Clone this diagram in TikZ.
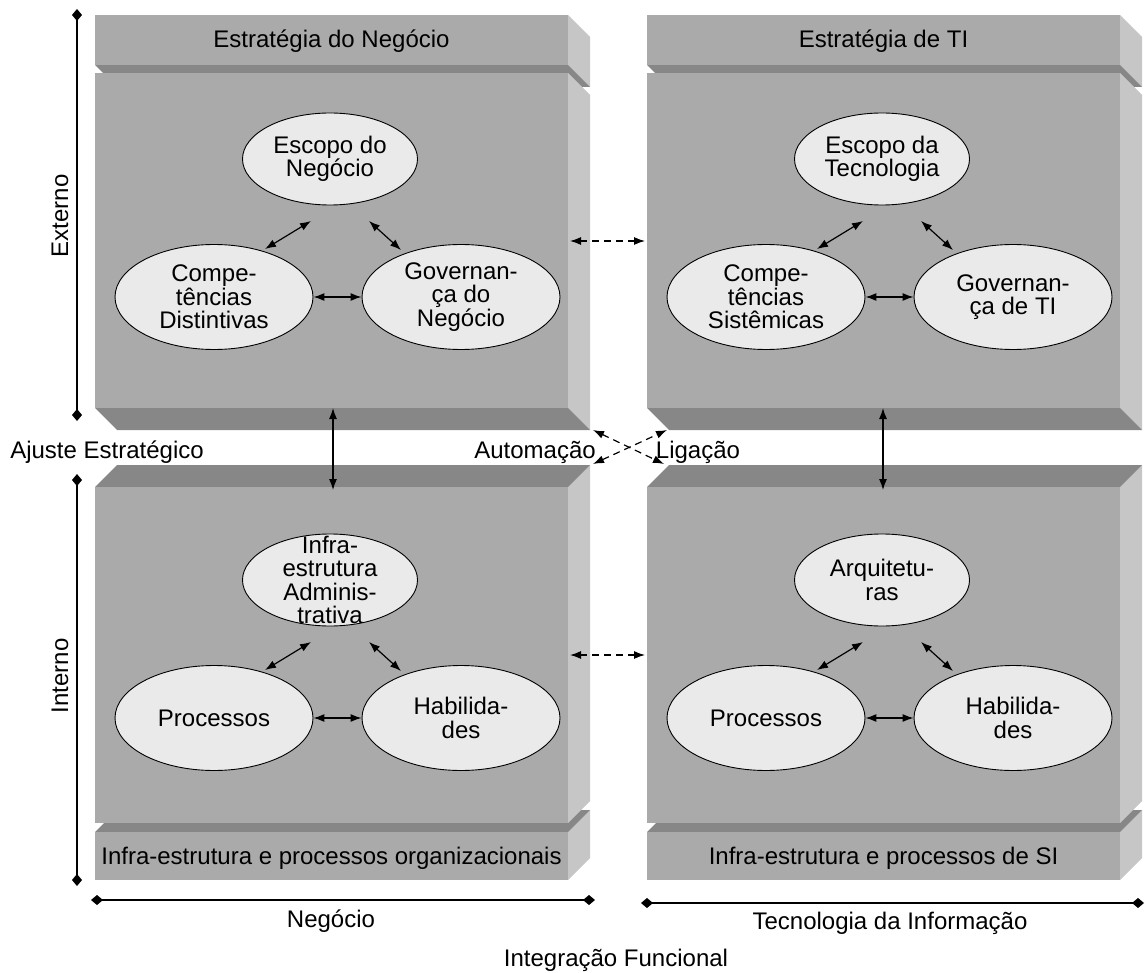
\documentclass[tikz,border=0pt]{standalone}
\usepackage{fontspec}
\setmainfont{Liberation Sans}
\usetikzlibrary{arrows.meta,shapes.geometric}

\definecolor{facefront}{RGB}{170,170,170}
\definecolor{faceside}{RGB}{198,198,198}
\definecolor{faceshade}{RGB}{135,135,135}
\definecolor{ellfill}{RGB}{234,234,234}

% slab seen from below: front face (#1,#2)-(#3,#4), depth toward lower right
\newcommand{\slabdown}[4]{%
  \fill[faceside] (#3,#2) -- ++(22,22) -- ({#3+22},{#4+22}) -- (#3,#4) -- cycle;
  \fill[faceshade] (#1,#4) -- (#3,#4) -- ++(22,22) -- ({#1+22},{#4+22}) -- cycle;
  \fill[facefront] (#1,#2) rectangle (#3,#4);
}
% slab seen from above: front face (#1,#2)-(#3,#4), depth toward upper right
\newcommand{\slabup}[4]{%
  \fill[faceside] (#3,#2) -- ++(22,-22) -- ({#3+22},{#4-22}) -- (#3,#4) -- cycle;
  \fill[faceshade] (#1,#2) -- (#3,#2) -- ++(22,-22) -- ({#1+22},{#2-22}) -- cycle;
  \fill[facefront] (#1,#2) rectangle (#3,#4);
}
% three linked ellipses of one quadrant
\newcommand{\trio}[4]{%
  \node[topell] (#1top) at (330,159) {};
  \node[elltext] (#1topt) at (#1top) {#2};
  \node[sideell] (#1left) at (214,297) {};
  \node[elltext] (#1leftt) at (#1left) {#3};
  \node[sideell] (#1right) at (461,297) {};
  \node[elltext] (#1rightt) at (#1right) {#4};
  \coordinate (#1a) at (265,249);
  \coordinate (#1b) at (311,221);
  \coordinate (#1c) at (369,221);
  \coordinate (#1d) at (401,250);
  \draw[biarrow] (#1a) -- (#1b);
  \draw[biarrow] (#1c) -- (#1d);
  \draw[biarrow] (#1left.east) -- (#1right.west);
}

\begin{document}
\begin{tikzpicture}[x=1pt,y=-1pt,
  every node/.style={font=\fontsize{24}{23.5}\selectfont, inner sep=0pt, text=black},
  topell/.style={ellipse, draw, line width=0.9pt, fill=ellfill, minimum width=175, minimum height=92},
  sideell/.style={ellipse, draw, line width=0.9pt, fill=ellfill, minimum width=198, minimum height=105},
  elltext/.style={align=center},
  label/.style={anchor=base},
  biarrow/.style={{Latex[length=11pt,width=8pt]}-{Latex[length=11pt,width=8pt]}, line width=1.2pt},
  dasharrow/.style={biarrow, dash pattern=on 7pt off 5pt},
  axisline/.style={{Diamond[length=12pt,width=10pt]}-{Diamond[length=12pt,width=10pt]}, line width=1.4pt}]

\path[use as bounding box] (0,0) rectangle (1145,973);

% blocks of the upper row
\slabdown{95}{15}{568}{65}
\slabdown{95}{73}{568}{408}
\slabdown{647}{15}{1120}{65}
\slabdown{647}{73}{1120}{408}
% blocks of the lower row
\slabup{95}{832}{568}{880}
\slabup{95}{487}{568}{823}
\slabup{647}{832}{1120}{880}
\slabup{647}{487}{1120}{823}

% strip titles
\node[label] (t1) at (331.5,48) {Estratégia do Negócio};
\node[label] (t2) at (883.5,48) {Estratégia de TI};
\node[label] (t3) at (331.5,864) {Infra-estrutura e processos organizacionais};
\node[label] (t4) at (883.5,864) {Infra-estrutura e processos de SI};

% ellipse groups
\trio{ul}{Escopo do\\Negócio}{Compe-\\tências\\Distintivas}{Governan-\\ça do\\Negócio}
\begin{scope}[shift={(552,0)}]
\trio{ur}{Escopo da\\Tecnologia}{Compe-\\tências\\Sistêmicas}{Governan-\\ça de TI}
\end{scope}
\begin{scope}[shift={(0,421)}]
\trio{ll}{Infra-\\estrutura\\Adminis-\\trativa}{Processos}{Habilida-\\des}
\end{scope}
\begin{scope}[shift={(552,421)}]
\trio{lr}{Arquitetu-\\ras}{Processos}{Habilida-\\des}
\end{scope}

% links between the quadrants
\coordinate (vl1) at (333,408);
\coordinate (vl2) at (333,490);
\coordinate (vr1) at (883,408);
\coordinate (vr2) at (883,490);
\draw[biarrow] (vl1) -- (vl2);
\draw[biarrow] (vr1) -- (vr2);
\coordinate (hu1) at (570,241);
\coordinate (hu2) at (645,241);
\coordinate (hl1) at (570,655);
\coordinate (hl2) at (645,655);
\draw[dasharrow] (hu1) -- (hu2);
\draw[dasharrow] (hl1) -- (hl2);
\coordinate (xa1) at (593,430);
\coordinate (xa2) at (664,464);
\coordinate (xb1) at (593,464);
\coordinate (xb2) at (667,430);
\draw[dasharrow] (xa1) -- (xa2);
\draw[dasharrow] (xb1) -- (xb2);

% row labels
\node[label] (ajuste) at (107,458) {Ajuste Estratégico};
\node[label] (autom) at (535,458) {Automação};
\node[label] (lig) at (698,458) {Ligação};

% axes
\coordinate (ay1) at (77,9);
\coordinate (ay2) at (77,421);
\coordinate (ay3) at (77,474);
\coordinate (ay4) at (77,886);
\draw[axisline] (ay1) -- (ay2);
\draw[axisline] (ay3) -- (ay4);
\coordinate (ax1) at (91,900);
\coordinate (ax2) at (595,900);
\coordinate (ax3) at (641,903);
\coordinate (ax4) at (1144,903);
\draw[axisline] (ax1) -- (ax2);
\draw[axisline] (ax3) -- (ax4);

\node[rotate=90] (ext) at (60,216) {Externo};
\node[rotate=90] (int) at (60,676) {Interno};
\node[label] (neg) at (331,927) {Negócio};
\node[label] (ti) at (890,929) {Tecnologia da Informação};
\node[label] (integ) at (616,966) {Integração Funcional};
\end{tikzpicture}
\end{document}
